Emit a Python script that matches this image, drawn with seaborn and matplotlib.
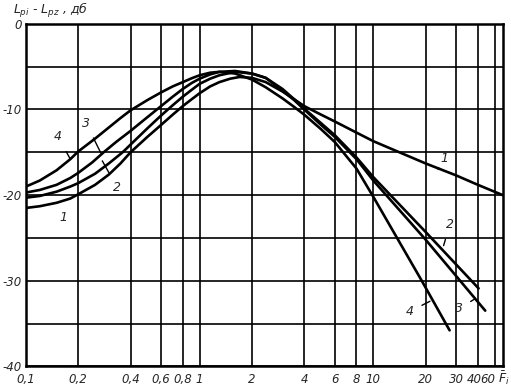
import numpy as np
import pandas as pd
import matplotlib
matplotlib.use("Agg")
import matplotlib.pyplot as plt
import matplotlib.transforms as mtransforms
import seaborn as sns
from matplotlib.ticker import NullLocator, FixedLocator

# ---- data ----
x1 = [0.1, 0.12, 0.15, 0.18, 0.2, 0.25, 0.3, 0.35, 0.4, 0.5, 0.6, 0.7, 0.8, 0.9, 1.0, 1.15, 1.3, 1.5, 1.7,
      2.0, 2.4, 3.0, 3.5, 4.0, 5.0, 6.0, 8.0, 10, 13.4, 20, 30, 40, 55.6]
y1 = [-21.5, -21.3, -20.9, -20.4, -19.9, -18.8, -17.6, -16.3, -15.0, -13.2, -11.8, -10.6, -9.6, -8.8, -8.1, -7.3, -6.8, -6.4, -6.2,
      -6.3, -6.8, -7.9, -8.8, -9.6, -10.6, -11.4, -12.7, -13.7, -14.8, -16.3, -17.7, -18.8, -20.0]

x2 = [0.1, 0.12, 0.15, 0.18, 0.2, 0.25, 0.3, 0.36, 0.4, 0.5, 0.6, 0.7, 0.8, 0.9, 1.0, 1.15, 1.3, 1.6,
      2.0, 2.4, 3.0, 3.5, 4.0, 5.0, 6.0, 8.0, 10, 20, 40.4]
y2 = [-20.3, -20.1, -19.6, -19.0, -18.6, -17.5, -16.3, -15.0, -14.1, -12.2, -10.7, -9.5, -8.5, -7.7, -7.0, -6.4, -6.0, -5.6,
      -5.8, -6.3, -7.6, -8.8, -9.9, -11.6, -13.0, -15.6, -17.9, -24.3, -30.9]

x3 = [0.1, 0.12, 0.15, 0.18, 0.2, 0.24, 0.28, 0.33, 0.4, 0.5, 0.6, 0.7, 0.8, 0.9, 1.0, 1.15, 1.3, 1.6,
      2.0, 2.4, 3.0, 3.5, 4.0, 5.0, 6.0, 8.0, 10, 20, 44.1]
y3 = [-19.7, -19.4, -18.8, -18.0, -17.4, -16.2, -15.0, -13.8, -12.5, -10.9, -9.6, -8.5, -7.6, -6.9, -6.4, -5.9, -5.6, -5.5,
      -5.8, -6.3, -7.8, -8.9, -10.0, -11.8, -13.2, -15.8, -18.3, -25.2, -33.5]

x4 = [0.1, 0.12, 0.15, 0.18, 0.2, 0.25, 0.3, 0.35, 0.4, 0.5, 0.6, 0.7, 0.8, 0.9, 1.0, 1.15, 1.3, 1.6,
      2.0, 2.4, 3.0, 3.5, 4.0, 5.0, 6.0, 8.0, 10, 19, 27.5]
y4 = [-19.0, -18.3, -17.1, -15.8, -14.9, -13.4, -12.1, -11.0, -10.1, -8.9, -8.0, -7.3, -6.8, -6.35, -6.0, -5.7, -5.6, -5.8,
      -6.5, -7.4, -8.7, -9.7, -10.6, -12.3, -13.8, -16.9, -20.2, -30.0, -35.8]

curve_names = ["1", "2", "3", "4"]

x_tick_pos = [0.1, 0.2, 0.4, 0.6, 0.8, 1, 2, 4, 6, 8, 10, 20, 30, 40, 50]
x_tick_labels = ["0,1", "0,2", "0,4", "0,6", "0,8", "1", "2", "4", "6", "8", "10", "20", "30", "40", "60"]
y_tick_pos = [0, -10, -20, -30, -40]
y_tick_labels = ["0", "-10", "-20", "-30", "-40"]
y_grid_minor = [-5, -15, -25, -35]

# label annotations: (text, text_xy, arrow_target_xy)
annotations = [
    ("1", (0.165, -22.6), (0.145, -20.9)),
    ("2", (0.335, -19.1), (0.275, -16.0)),
    ("3", (0.222, -11.6), (0.27, -15.1)),
    ("4", (0.153, -13.2), (0.18, -15.8)),
    ("1", (25.8, -15.7), (23.6, -17.0)),
    ("2", (27.6, -23.4), (25.4, -25.9)),
    ("3", (31.0, -33.3), (38.6, -32.1)),
    ("4", (16.2, -33.6), (21.2, -32.4)),
]

frames = []
for name, xs, ys in zip(curve_names, [x1, x2, x3, x4], [y1, y2, y3, y4]):
    frames.append(pd.DataFrame({"x": xs, "y": ys, "curve": name}))
df = pd.concat(frames, ignore_index=True)

sns.set_style("white")
plt.rcParams["font.family"] = ["DejaVu Sans"]

fig = plt.figure(figsize=(5.11, 3.91), dpi=100)
ax = fig.add_axes([26 / 511, 1 - 366.3 / 391, (502.7 - 26) / 511, (366.3 - 23.9) / 391])

sns.lineplot(data=df, x="x", y="y", hue="curve", palette=["black"] * 4,
             estimator=None, sort=False, legend=False, linewidth=1.9, ax=ax, zorder=3)
for ln in ax.lines:
    ln.set_solid_joinstyle("round")
    ln.set_solid_capstyle("round")

ax.set_xscale("log")
ax.set_xlim(0.1, 55.6)
ax.set_ylim(-40, 0)

ax.xaxis.set_major_locator(FixedLocator(x_tick_pos))
ax.xaxis.set_minor_locator(NullLocator())
xlbls = ax.set_xticklabels(x_tick_labels, fontsize=8.5, style="italic")
ax.yaxis.set_major_locator(FixedLocator(y_tick_pos))
ax.yaxis.set_minor_locator(FixedLocator(y_grid_minor))
ax.set_yticklabels(y_tick_labels, fontsize=8.5, style="italic")
ax.tick_params(axis="both", which="both", length=0)
ax.tick_params(axis="x", pad=5)
ax.tick_params(axis="y", pad=3)

# nudge the crowded last labels apart
shift_40 = mtransforms.ScaledTranslation(-4 / 100, 0, fig.dpi_scale_trans)
shift_60 = mtransforms.ScaledTranslation(1 / 100, 0, fig.dpi_scale_trans)
xlbls[-2].set_transform(xlbls[-2].get_transform() + shift_40)
xlbls[-1].set_transform(xlbls[-1].get_transform() + shift_60)
xlbls[-1].set_horizontalalignment("right")

ax.grid(True, which="both", color="black", linewidth=1.2)
for s in ax.spines.values():
    s.set_visible(True)
    s.set_color("black")
    s.set_linewidth(1.8)

ax.set_xlabel("")
ax.set_ylabel("")

for txt, txy, target in annotations:
    ax.annotate(txt, xy=target, xytext=txy, fontsize=9, style="italic",
                ha="center", va="center", zorder=5,
                arrowprops=dict(arrowstyle="-", color="black", lw=1.0,
                                shrinkA=4, shrinkB=0))

fig.text(13 / 511, 1 - 14 / 391, r"$L_{pi}$ - $L_{pz}$ , дб", fontsize=9,
         style="italic", ha="left", va="baseline")
fig.text(504 / 511, 1 - 378 / 391, r"$\bar{F}_i$", fontsize=9,
         ha="center", va="center")

fig.savefig("out.png", dpi=100)
